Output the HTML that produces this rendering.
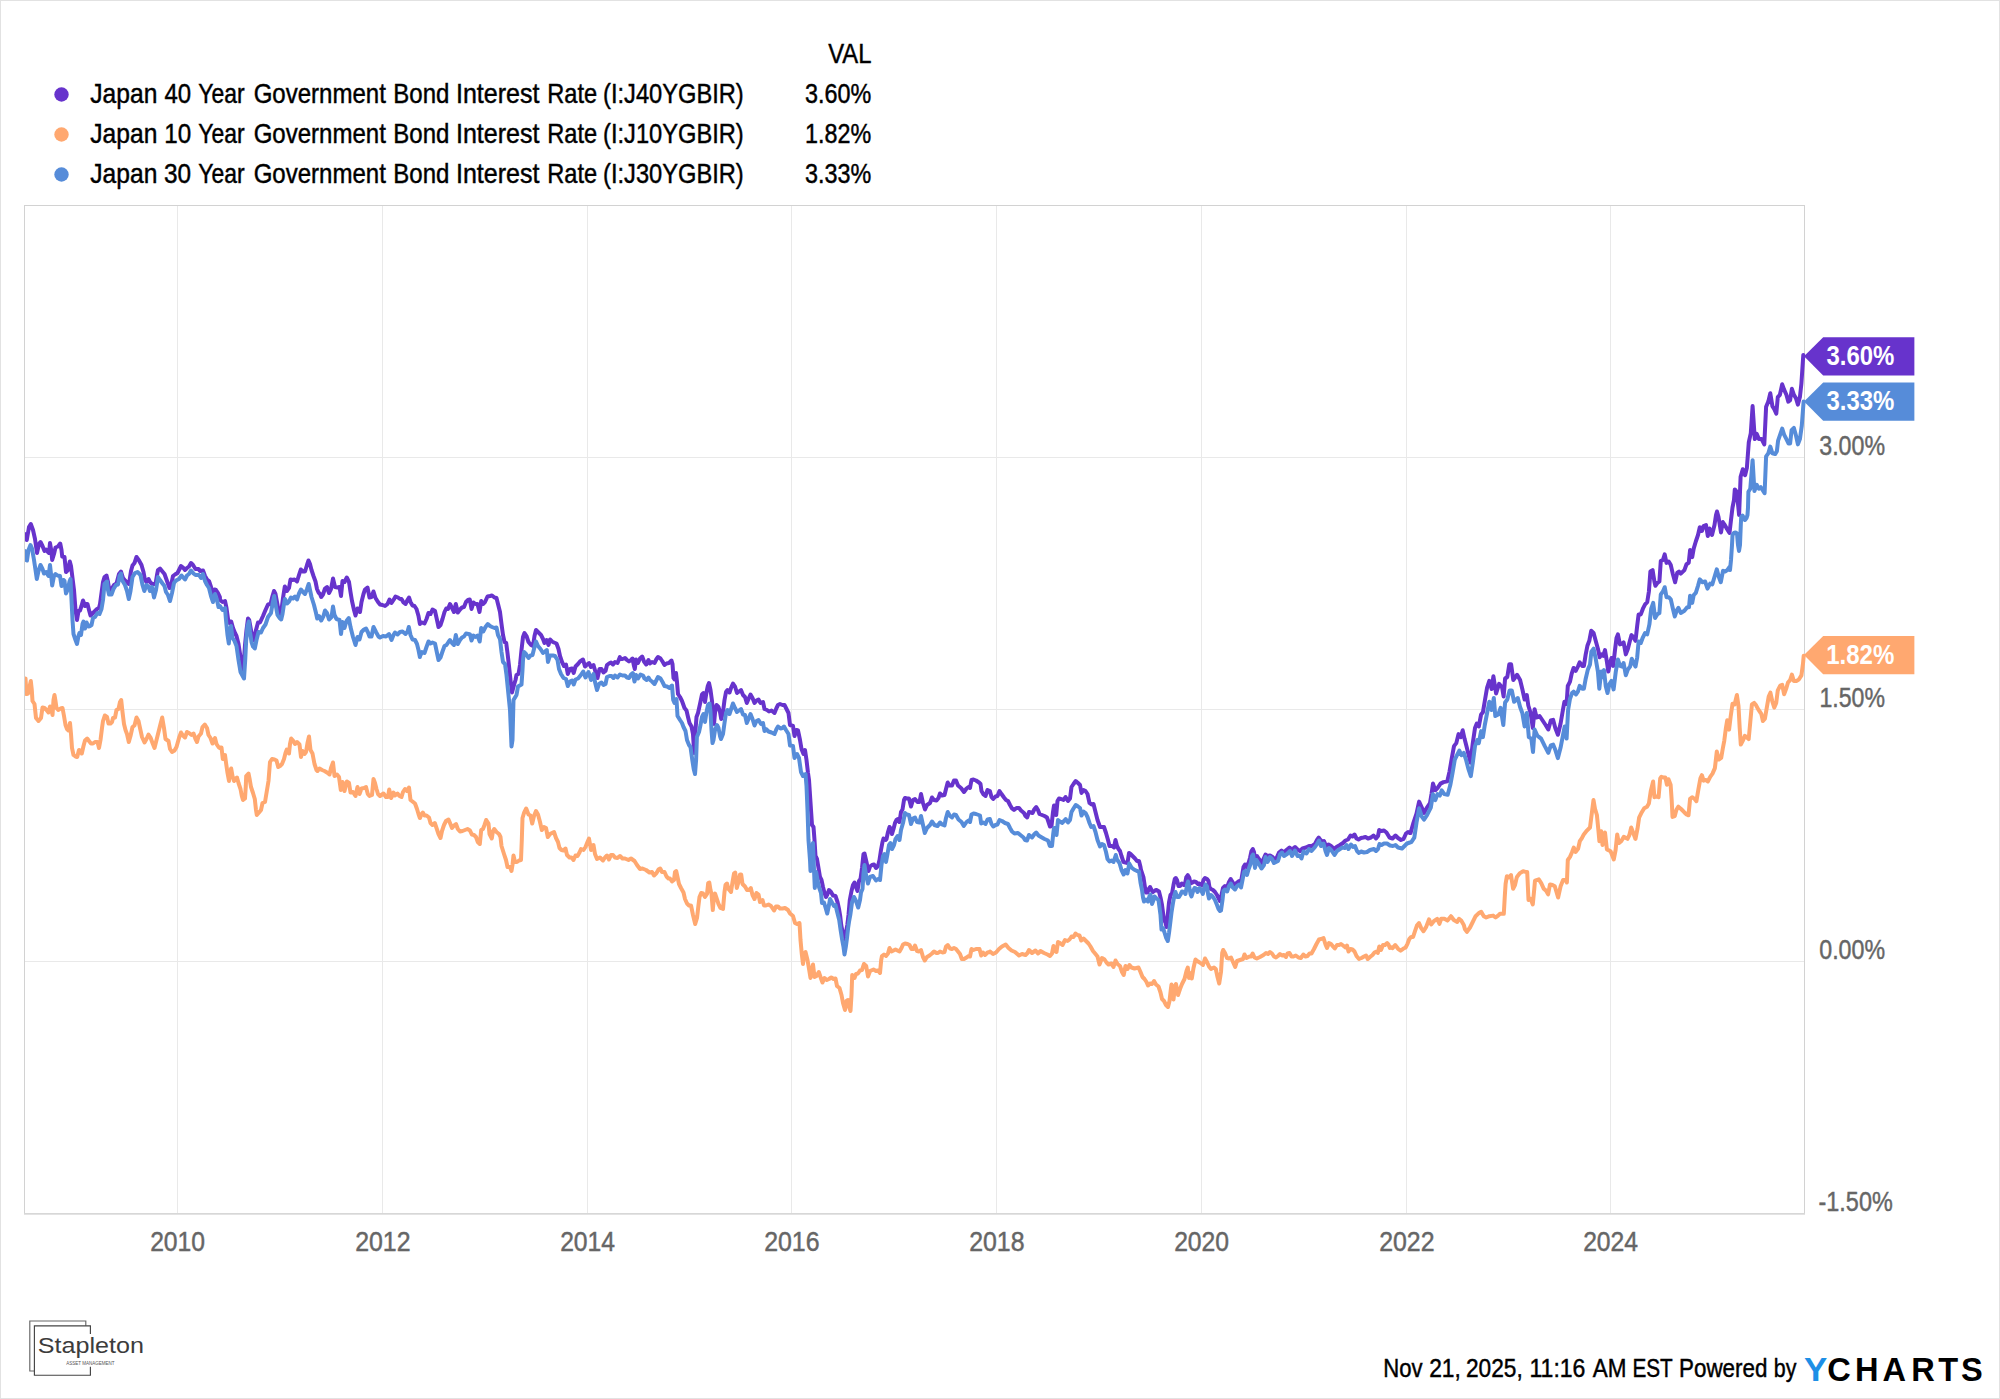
<!DOCTYPE html><html><head><meta charset="utf-8"><title>Japan Government Bond Interest Rates</title>
<style>html,body{margin:0;padding:0;background:#fff}svg{display:block}text{font-family:"Liberation Sans",sans-serif}</style></head><body>
<svg width="2000" height="1399" viewBox="0 0 2000 1399">
<rect x="0" y="0" width="2000" height="1399" fill="#fff"/>
<rect x="0.5" y="0.5" width="1999" height="1398" fill="none" stroke="#e2e2e2" stroke-width="1"/>
<path d="M177.5 206V1213 M382.5 206V1213 M587.5 206V1213 M791.5 206V1213 M996.5 206V1213 M1201.5 206V1213 M1406.5 206V1213 M1610.5 206V1213 M25 457.5H1804 M25 709.5H1804 M25 961.5H1804" stroke="#e9e9e9" stroke-width="1" fill="none" shape-rendering="crispEdges"/>
<path d="M24.5 1214V205.5H1804.5V1214" stroke="#d2d2d2" stroke-width="1" fill="none" shape-rendering="crispEdges"/>
<rect x="24" y="1213" width="1781" height="1.7" fill="#d7d7d7"/>
<defs><clipPath id="pc"><rect x="25" y="206" width="1781" height="1008"/></clipPath></defs>
<path d="M24.2 535.0 L25.0 534.0 L26.8 540.0 L29.0 527.0 L30.8 524.0 L33.0 530.0 L35.0 539.0 L37.0 553.0 L39.0 544.0 L40.5 542.0 L42.5 546.0 L44.5 551.0 L46.2 549.5 L48.0 552.0 L49.0 553.0 L50.0 543.0 L51.2 550.0 L52.2 560.0 L54.0 554.0 L55.5 547.5 L58.0 546.5 L60.2 543.5 L61.5 550.0 L62.2 556.5 L64.5 557.0 L66.0 572.0 L68.0 570.0 L69.8 561.5 L71.0 566.0 L72.5 578.0 L74.0 590.0 L75.5 610.0 L77.0 620.0 L78.5 611.0 L80.0 610.5 L81.5 606.0 L83.0 600.5 L85.0 606.0 L86.0 604.0 L87.5 604.0 L89.0 610.0 L90.5 615.5 L92.0 614.0 L94.5 611.5 L97.0 609.0 L99.0 608.0 L100.0 604.0 L101.5 593.0 L103.0 582.0 L104.5 577.0 L106.5 575.5 L108.0 582.0 L109.0 588.0 L111.0 590.0 L114.0 585.0 L116.5 583.5 L119.0 574.0 L121.0 571.5 L123.0 578.0 L125.0 580.5 L127.5 583.0 L129.0 584.0 L131.0 571.0 L132.5 565.5 L134.5 563.0 L136.5 557.0 L139.0 560.5 L141.5 565.0 L143.5 572.0 L145.0 580.0 L146.5 582.0 L148.5 579.0 L150.0 582.0 L152.0 584.0 L154.0 584.0 L155.5 584.0 L157.0 575.0 L158.0 570.0 L160.0 568.5 L162.0 571.0 L164.5 574.0 L167.0 581.0 L169.5 588.0 L171.0 586.0 L173.0 576.0 L175.0 574.5 L177.5 573.0 L179.5 569.0 L181.0 566.0 L183.0 567.5 L185.0 570.0 L187.0 568.0 L189.0 566.5 L191.0 563.0 L193.0 565.0 L195.5 569.0 L198.5 569.0 L200.0 571.0 L203.0 570.5 L205.0 576.0 L207.0 579.5 L209.0 581.0 L211.0 587.0 L212.5 593.0 L214.5 589.5 L216.0 590.0 L218.0 593.0 L219.9 597.0 L220.0 600.0 L222.5 602.0 L225.0 601.0 L226.5 608.0 L228.0 619.0 L229.5 623.0 L231.2 621.5 L233.0 628.0 L235.0 633.0 L236.5 636.0 L238.5 644.0 L240.5 657.0 L242.5 671.0 L244.0 660.0 L245.0 645.0 L246.5 630.0 L248.0 618.5 L249.2 620.0 L251.0 630.0 L252.5 638.0 L254.0 640.0 L256.0 630.0 L258.0 622.5 L260.0 622.5 L263.0 616.0 L265.5 610.0 L268.0 604.5 L270.5 604.0 L272.5 596.0 L274.0 591.0 L275.5 594.0 L277.0 602.0 L278.5 610.0 L280.0 614.0 L281.5 610.0 L283.0 598.0 L284.8 586.5 L287.0 591.0 L289.0 588.0 L290.5 579.5 L292.5 580.0 L294.5 579.5 L297.0 581.5 L299.0 575.0 L300.8 569.5 L303.0 571.5 L305.0 571.5 L307.0 565.0 L308.5 560.5 L310.0 564.0 L311.5 570.0 L313.5 576.0 L315.5 581.5 L317.0 589.0 L318.5 592.5 L320.0 594.0 L321.2 597.0 L323.0 594.5 L325.0 588.5 L327.0 587.0 L329.0 593.0 L331.0 589.0 L333.0 578.5 L335.0 587.0 L337.5 587.5 L339.5 587.0 L341.0 596.0 L342.5 581.0 L344.5 582.0 L346.8 577.5 L349.0 582.0 L350.5 592.0 L352.0 601.0 L354.0 610.0 L355.5 615.5 L357.5 608.5 L360.0 612.0 L361.5 602.0 L363.5 594.0 L365.0 589.5 L367.5 587.5 L369.5 597.5 L371.5 597.0 L373.5 591.5 L375.5 598.0 L378.0 602.0 L380.0 604.5 L382.5 605.0 L385.0 606.0 L387.5 604.0 L389.5 599.5 L391.5 603.0 L393.5 600.0 L395.5 596.5 L398.0 597.5 L400.0 599.0 L401.5 599.0 L403.5 602.5 L405.5 604.0 L407.5 600.0 L409.0 597.5 L410.5 602.0 L412.5 605.5 L414.5 606.0 L416.5 609.0 L418.5 616.0 L419.9 624.0 L420.0 623.0 L422.0 622.5 L424.5 623.5 L426.5 619.0 L428.5 613.0 L430.5 614.0 L432.5 609.5 L435.0 611.0 L437.0 620.0 L438.5 627.0 L440.5 625.0 L442.5 619.0 L444.5 612.0 L446.2 608.5 L448.0 609.0 L450.0 604.0 L452.0 608.0 L454.0 612.0 L455.8 604.0 L457.8 612.5 L460.0 609.5 L462.0 607.5 L464.0 607.0 L466.0 602.0 L468.0 600.0 L469.8 599.5 L471.5 609.0 L473.5 602.5 L475.5 604.0 L477.5 604.0 L479.5 612.0 L481.2 601.0 L483.0 604.0 L485.0 602.0 L487.5 596.5 L490.0 596.0 L492.0 595.5 L494.5 597.5 L496.5 598.0 L498.0 604.0 L500.0 612.0 L501.5 624.0 L503.0 635.0 L504.5 642.0 L506.2 643.0 L507.5 653.0 L509.0 666.0 L510.5 680.0 L512.0 692.5 L514.0 685.0 L515.5 680.0 L516.5 675.0 L518.5 674.0 L520.0 665.0 L521.5 650.0 L523.0 637.0 L524.5 633.0 L526.5 636.0 L528.5 642.0 L531.0 645.0 L533.0 646.0 L534.5 636.0 L536.0 630.0 L538.5 632.5 L541.0 635.0 L543.0 639.0 L544.5 643.0 L546.5 640.0 L548.5 645.0 L550.0 639.5 L552.0 641.5 L554.0 642.5 L556.5 643.5 L558.5 649.0 L560.0 656.0 L562.0 662.0 L564.0 666.0 L566.0 664.5 L567.8 674.0 L570.0 669.0 L572.0 668.5 L573.7 673.0 L575.5 666.5 L578.0 664.0 L580.0 661.5 L583.0 659.5 L585.0 666.5 L587.0 664.5 L589.0 663.0 L591.0 667.0 L593.5 665.0 L595.5 672.0 L597.5 678.0 L599.5 669.0 L601.5 669.0 L603.5 672.5 L605.5 671.0 L607.0 665.0 L609.0 663.5 L611.0 662.5 L613.0 664.5 L615.0 662.0 L617.5 663.0 L619.9 657.0 L620.0 659.0 L622.5 659.0 L625.0 658.0 L627.0 660.0 L629.0 661.5 L631.0 660.0 L632.5 658.5 L634.0 666.0 L634.8 669.0 L636.0 659.5 L638.0 663.0 L640.0 658.5 L642.2 656.5 L644.0 661.5 L646.2 664.5 L648.5 660.0 L650.0 663.5 L652.0 662.0 L654.5 663.0 L656.5 659.0 L658.0 657.0 L660.5 658.5 L662.5 661.5 L664.5 665.0 L666.5 663.5 L669.0 663.0 L671.5 660.5 L672.5 664.0 L673.5 678.0 L674.5 679.5 L676.0 673.0 L677.0 682.0 L678.0 694.0 L680.0 697.0 L682.0 701.0 L684.5 708.0 L686.5 710.5 L688.0 717.0 L689.5 723.0 L691.5 726.5 L693.0 734.0 L694.2 753.0 L695.5 730.0 L696.5 717.0 L698.0 713.0 L700.0 704.0 L702.0 694.5 L703.5 693.0 L705.0 702.0 L706.2 694.0 L707.8 686.0 L709.0 683.0 L710.5 690.0 L712.0 701.0 L713.0 714.0 L714.0 724.0 L715.0 713.0 L716.5 705.0 L718.5 707.0 L720.0 712.0 L721.2 719.0 L723.0 712.0 L724.5 700.0 L726.0 692.0 L727.5 690.0 L729.5 692.5 L731.0 688.0 L733.0 683.5 L735.0 686.5 L737.0 693.0 L739.0 691.5 L741.0 690.0 L743.0 695.0 L745.0 697.0 L746.8 703.0 L748.5 699.0 L750.5 694.5 L752.5 698.0 L754.5 703.0 L756.5 700.5 L758.5 699.5 L760.5 703.0 L763.0 702.0 L764.5 709.0 L767.0 710.0 L769.0 711.5 L771.5 710.5 L774.5 713.0 L776.5 708.0 L778.0 705.0 L780.0 704.0 L782.5 705.0 L784.5 705.0 L786.5 709.0 L788.5 713.0 L790.0 725.0 L793.0 726.0 L794.5 736.0 L796.5 730.0 L798.0 730.5 L800.0 740.0 L801.5 749.0 L803.5 754.0 L805.0 750.0 L806.5 760.0 L808.0 773.0 L809.0 780.0 L810.0 795.0 L811.0 810.0 L812.0 825.0 L813.5 827.0 L814.5 840.0 L815.5 856.0 L817.0 859.0 L818.5 868.0 L820.0 877.0 L821.5 880.0 L823.0 887.0 L824.5 893.0 L826.0 897.0 L827.5 894.0 L829.0 890.0 L831.0 892.0 L833.0 895.5 L835.5 896.0 L837.5 902.0 L839.2 910.0 L840.2 916.0 L841.2 925.0 L842.8 933.0 L844.2 939.5 L845.8 933.0 L847.3 925.0 L848.5 915.0 L849.8 900.0 L851.5 891.0 L853.0 885.0 L854.5 882.5 L856.0 887.0 L857.5 891.0 L859.0 881.0 L860.5 879.0 L862.0 868.0 L863.5 854.0 L864.5 853.5 L866.0 860.0 L868.5 871.0 L870.0 866.5 L872.0 865.0 L874.0 864.5 L876.0 868.0 L878.0 866.0 L879.5 860.0 L881.0 850.0 L882.5 842.0 L883.5 838.5 L885.5 840.0 L886.5 839.0 L888.0 832.0 L889.5 827.0 L891.0 829.0 L892.0 834.0 L893.5 829.0 L895.0 823.0 L896.5 820.0 L898.0 819.0 L899.5 822.0 L901.0 812.0 L902.5 809.5 L904.0 800.0 L905.0 798.0 L907.0 798.5 L909.0 798.5 L911.0 806.5 L913.0 800.0 L915.0 799.0 L917.5 802.0 L919.5 802.0 L921.0 794.0 L923.0 803.0 L925.0 809.5 L927.0 805.0 L930.0 803.0 L932.0 797.5 L934.0 800.0 L936.5 800.5 L938.5 798.0 L940.0 793.5 L942.0 795.5 L944.5 795.0 L946.0 789.0 L947.7 782.5 L949.5 785.5 L952.0 785.5 L954.0 780.5 L956.0 780.5 L958.0 785.5 L961.0 788.0 L964.0 792.0 L966.5 788.5 L968.5 787.0 L970.0 788.0 L971.5 780.0 L973.5 779.5 L976.0 780.5 L979.0 782.5 L980.5 784.0 L981.5 791.0 L983.5 794.5 L985.5 796.0 L987.5 790.0 L989.9 791.0 L991.5 797.0 L993.2 799.0 L995.5 796.5 L997.5 796.0 L999.5 791.0 L1001.5 794.0 L1004.0 797.5 L1006.0 800.0 L1008.0 801.0 L1010.0 805.0 L1012.0 808.5 L1014.0 810.0 L1016.5 808.0 L1019.0 808.0 L1021.0 810.5 L1024.0 813.0 L1025.5 816.0 L1027.2 817.5 L1029.0 812.0 L1031.0 812.5 L1032.5 813.0 L1034.5 809.0 L1036.2 807.0 L1038.0 810.0 L1039.5 814.0 L1042.0 815.0 L1044.5 816.0 L1047.0 817.5 L1048.5 822.0 L1050.0 826.5 L1051.5 826.0 L1053.0 812.0 L1054.0 805.5 L1055.5 806.0 L1056.2 815.0 L1057.5 801.0 L1059.0 798.5 L1061.0 799.0 L1063.5 800.0 L1065.5 797.0 L1068.0 801.0 L1070.0 798.5 L1071.5 787.0 L1073.5 784.0 L1075.7 781.0 L1078.0 783.0 L1080.0 785.0 L1081.5 793.0 L1083.5 790.0 L1085.5 791.0 L1087.5 794.0 L1089.5 803.0 L1091.5 804.5 L1093.5 804.0 L1095.5 812.0 L1097.5 820.0 L1100.0 827.0 L1102.0 827.0 L1104.0 827.0 L1106.0 833.0 L1108.0 840.0 L1109.5 846.0 L1112.0 846.0 L1114.0 847.5 L1115.5 840.0 L1117.0 846.0 L1118.5 849.0 L1120.0 851.0 L1121.5 856.0 L1123.5 862.0 L1125.5 862.5 L1127.5 863.0 L1129.0 853.0 L1130.5 854.0 L1132.5 856.0 L1135.0 858.5 L1137.0 861.0 L1139.0 861.0 L1140.5 867.0 L1141.0 870.0 L1143.5 877.5 L1145.0 887.5 L1146.0 892.5 L1147.5 892.5 L1149.0 888.5 L1150.0 887.0 L1151.5 890.0 L1153.0 892.0 L1155.0 890.5 L1156.5 890.0 L1159.0 891.5 L1160.5 897.5 L1162.0 905.0 L1163.0 912.5 L1164.0 920.0 L1165.5 922.5 L1166.5 927.0 L1167.8 915.0 L1169.0 902.5 L1170.5 895.0 L1172.0 893.5 L1173.5 885.0 L1174.8 879.0 L1175.8 878.0 L1177.0 880.0 L1178.5 886.0 L1180.0 886.0 L1181.8 883.5 L1184.0 885.0 L1185.0 884.0 L1186.2 877.5 L1187.8 875.2 L1189.2 877.5 L1190.5 883.5 L1192.5 882.5 L1194.0 881.5 L1196.0 882.0 L1198.0 884.0 L1199.5 883.5 L1202.0 885.5 L1203.5 880.0 L1205.0 878.0 L1207.0 879.0 L1208.5 881.0 L1209.5 887.5 L1211.0 889.0 L1213.0 890.0 L1215.0 892.0 L1217.0 895.0 L1219.0 899.0 L1220.0 901.0 L1221.5 895.0 L1223.0 888.0 L1225.0 886.0 L1227.0 887.5 L1229.0 882.0 L1230.7 879.0 L1232.5 882.0 L1234.5 886.0 L1236.5 883.0 L1239.0 881.0 L1240.5 884.0 L1242.0 876.0 L1243.5 867.0 L1245.0 864.5 L1246.5 867.0 L1248.5 863.0 L1250.0 858.0 L1251.5 851.0 L1252.8 849.0 L1254.0 852.0 L1255.0 858.0 L1257.0 856.0 L1259.0 859.0 L1261.5 864.0 L1263.5 859.0 L1265.5 854.5 L1267.5 856.0 L1270.0 855.5 L1272.5 857.0 L1275.0 860.0 L1277.0 857.0 L1279.0 852.5 L1281.5 850.5 L1284.0 852.5 L1286.5 850.0 L1289.5 847.5 L1292.0 849.5 L1295.0 847.0 L1297.5 849.5 L1300.0 851.0 L1302.5 848.5 L1306.0 847.5 L1309.0 846.0 L1312.0 846.0 L1315.0 844.0 L1317.0 840.0 L1318.8 837.5 L1320.5 840.0 L1322.5 842.0 L1324.0 841.0 L1326.0 846.0 L1328.5 844.5 L1331.0 846.0 L1334.0 849.0 L1336.5 847.0 L1340.0 845.0 L1343.0 843.0 L1345.5 840.5 L1348.0 839.5 L1350.5 835.5 L1352.5 836.5 L1354.5 834.5 L1356.5 838.5 L1358.5 839.5 L1361.0 838.0 L1363.5 837.5 L1365.5 837.0 L1368.0 838.5 L1371.0 837.5 L1373.5 835.5 L1376.0 838.5 L1378.0 836.0 L1379.2 830.0 L1381.5 831.0 L1384.0 830.5 L1386.5 832.5 L1389.5 837.5 L1392.5 838.5 L1395.5 835.5 L1398.0 838.0 L1401.0 840.0 L1403.5 839.0 L1406.0 833.5 L1408.0 832.0 L1409.9 833.0 L1410.5 833.1 L1413.5 822.6 L1416.5 813.6 L1419.1 801.6 L1421.8 807.6 L1424.0 812.9 L1427.0 807.6 L1430.0 803.1 L1431.5 794.1 L1433.0 783.6 L1435.3 790.3 L1437.5 788.1 L1440.5 783.6 L1443.5 782.1 L1447.3 781.3 L1449.5 771.6 L1451.8 758.1 L1454.0 746.1 L1456.3 743.1 L1458.5 734.1 L1460.8 737.1 L1462.7 730.3 L1464.5 738.6 L1466.8 747.6 L1469.0 756.6 L1470.5 762.6 L1472.8 743.1 L1475.0 728.0 L1476.8 723.5 L1478.8 726.5 L1481.1 714.5 L1482.9 712.3 L1484.8 701.0 L1487.1 687.5 L1489.3 680.8 L1491.6 689.0 L1493.4 676.3 L1496.1 693.5 L1499.1 683.8 L1502.1 687.5 L1503.6 696.5 L1505.1 678.5 L1507.3 677.0 L1509.3 664.3 L1511.1 664.3 L1513.3 680.0 L1517.1 674.8 L1520.1 680.0 L1522.3 689.0 L1524.6 699.5 L1526.8 695.0 L1528.3 705.5 L1530.6 713.0 L1532.8 728.0 L1534.6 709.3 L1536.6 717.5 L1539.6 716.0 L1542.6 720.5 L1545.6 725.0 L1548.3 729.5 L1550.8 720.5 L1553.1 719.8 L1555.3 728.0 L1557.9 734.8 L1560.6 723.5 L1562.9 710.0 L1564.4 701.8 L1566.6 704.0 L1567.8 686.0 L1570.0 681.6 L1571.7 673.7 L1573.6 668.0 L1575.7 670.9 L1577.9 666.6 L1579.7 662.3 L1582.2 665.9 L1583.9 665.9 L1585.7 654.4 L1587.4 645.8 L1589.3 640.8 L1591.2 630.8 L1593.6 633.0 L1595.7 640.8 L1597.9 648.7 L1599.7 657.3 L1601.5 654.4 L1603.2 655.8 L1605.0 650.1 L1606.9 661.6 L1608.3 671.6 L1610.0 663.0 L1611.5 658.0 L1613.2 665.9 L1615.0 650.1 L1616.5 638.0 L1617.9 634.4 L1620.0 644.4 L1622.2 643.7 L1623.6 642.3 L1625.8 654.4 L1627.9 648.7 L1630.1 640.1 L1631.5 635.1 L1633.6 637.3 L1635.5 640.8 L1637.2 625.8 L1638.6 614.4 L1640.8 614.4 L1642.9 608.7 L1645.1 604.4 L1647.2 602.2 L1648.9 591.5 L1650.4 571.5 L1652.6 570.1 L1654.4 581.5 L1655.4 585.8 L1657.5 582.9 L1659.4 581.5 L1660.8 560.8 L1662.9 560.1 L1664.7 554.3 L1666.5 562.9 L1668.7 561.5 L1670.8 565.1 L1672.9 574.3 L1675.1 582.2 L1677.2 572.9 L1679.0 571.5 L1680.8 573.6 L1684.4 570.1 L1686.5 564.3 L1688.7 562.9 L1690.1 550.0 L1692.2 557.2 L1693.7 548.6 L1695.8 541.5 L1698.0 535.0 L1699.8 527.2 L1700.0 531.0 L1702.0 531.0 L1703.5 526.0 L1706.0 525.0 L1707.8 536.0 L1709.5 528.5 L1712.0 535.0 L1714.5 525.0 L1716.0 515.0 L1717.0 511.5 L1718.5 517.0 L1721.0 532.5 L1722.8 522.0 L1724.5 524.5 L1727.0 529.0 L1729.5 533.0 L1731.0 520.0 L1732.5 507.5 L1734.0 500.0 L1734.8 489.4 L1736.8 491.7 L1739.1 515.0 L1740.6 476.7 L1742.8 469.2 L1745.1 475.2 L1746.9 467.7 L1748.8 442.1 L1750.8 433.1 L1752.6 406.1 L1754.8 439.1 L1756.8 433.9 L1758.9 439.1 L1761.6 439.1 L1764.3 444.4 L1766.1 406.8 L1768.3 401.6 L1770.3 393.3 L1772.4 406.1 L1774.3 409.1 L1776.3 413.6 L1777.8 397.1 L1779.9 394.8 L1782.2 384.3 L1784.1 389.6 L1786.4 394.8 L1788.3 401.6 L1790.1 400.1 L1791.9 388.8 L1793.9 394.8 L1796.1 398.6 L1797.9 404.6 L1799.9 397.1 L1801.4 383.6 L1803.3 355.0" stroke="#6733cc" stroke-width="4.0" fill="none" stroke-linejoin="round" stroke-linecap="round" clip-path="url(#pc)"/>
<path d="M24.2 680.0 L25.5 678.5 L26.5 694.0 L28.0 693.5 L29.5 687.0 L30.8 681.0 L31.8 690.0 L32.5 701.0 L34.5 704.0 L36.0 718.0 L38.5 721.0 L41.0 718.0 L42.5 707.5 L44.5 708.0 L46.5 710.0 L48.5 712.5 L50.0 706.5 L51.2 707.5 L52.5 715.0 L53.5 700.0 L54.5 695.0 L55.5 701.0 L56.5 708.0 L58.5 710.0 L60.5 708.5 L62.5 708.0 L64.0 716.0 L65.5 725.0 L67.0 729.0 L68.5 730.5 L70.0 723.0 L71.0 734.0 L72.0 748.0 L73.5 755.0 L75.5 756.5 L77.2 757.0 L79.0 750.0 L80.5 751.0 L81.8 753.5 L83.5 746.0 L85.0 740.5 L87.2 738.5 L89.0 741.0 L91.0 743.5 L93.0 743.5 L95.0 742.0 L97.5 742.0 L99.0 748.0 L100.5 740.0 L102.0 728.0 L103.0 721.0 L104.8 715.5 L107.0 717.0 L108.5 723.5 L110.5 723.5 L112.0 722.0 L113.0 718.0 L115.0 717.5 L116.5 710.0 L118.5 709.0 L120.0 702.0 L121.2 700.0 L122.5 712.0 L124.0 724.0 L125.5 730.0 L127.0 734.0 L128.8 742.0 L130.5 736.0 L132.5 727.0 L134.5 725.5 L136.5 717.5 L138.5 721.0 L140.0 728.0 L142.0 737.0 L144.5 742.5 L146.5 739.0 L148.5 734.5 L150.5 737.5 L152.5 743.0 L154.5 748.0 L156.5 740.0 L158.5 732.0 L160.5 724.0 L162.2 717.5 L164.0 728.0 L165.5 739.0 L167.0 740.0 L168.5 741.0 L170.0 749.0 L172.0 752.0 L174.5 750.5 L176.5 747.0 L179.0 738.0 L181.0 732.5 L183.0 735.5 L185.0 737.5 L187.0 732.0 L189.0 733.0 L191.5 735.0 L193.5 733.5 L195.5 739.0 L197.0 742.0 L198.5 736.5 L201.0 733.5 L202.5 727.0 L204.8 724.5 L207.0 728.0 L208.5 735.0 L210.5 738.0 L212.5 743.5 L215.0 738.0 L216.5 744.0 L218.5 747.0 L219.9 748.0 L220.0 747.5 L221.5 747.5 L222.8 759.0 L225.0 755.0 L226.2 764.0 L227.5 773.0 L229.0 781.0 L230.0 772.0 L231.2 768.5 L232.5 776.0 L234.0 781.0 L235.5 779.0 L237.0 777.5 L238.5 783.0 L240.5 789.0 L241.8 796.0 L243.0 800.0 L245.0 798.5 L245.8 786.0 L246.2 776.0 L248.5 773.5 L249.8 780.0 L251.0 787.0 L253.0 793.0 L254.8 799.0 L256.0 810.0 L256.8 815.0 L259.0 812.5 L261.0 810.0 L262.5 803.0 L265.0 802.0 L266.5 793.0 L268.5 781.0 L270.0 762.0 L272.0 759.0 L274.5 759.5 L276.5 760.5 L278.2 767.0 L280.0 766.0 L282.0 764.0 L284.0 759.0 L285.5 753.0 L286.8 749.5 L289.0 753.5 L290.0 744.0 L291.2 738.5 L293.0 740.5 L295.0 744.0 L297.0 742.0 L299.5 744.5 L301.0 757.0 L302.5 751.0 L304.5 754.0 L306.0 752.0 L307.5 743.0 L309.0 736.5 L310.5 750.0 L312.5 753.5 L314.5 764.0 L316.5 770.0 L317.5 771.0 L319.5 768.5 L322.0 770.0 L324.5 771.0 L327.0 772.5 L329.5 774.5 L331.0 768.0 L333.0 762.5 L334.5 776.0 L337.0 774.5 L339.0 777.0 L340.8 790.0 L342.5 782.0 L344.5 791.0 L346.8 781.5 L349.0 783.0 L350.5 792.5 L353.0 792.0 L355.5 796.0 L357.5 787.0 L359.5 794.0 L361.5 788.5 L364.0 788.0 L366.0 787.0 L367.8 794.0 L369.5 796.0 L372.0 795.0 L373.5 779.0 L375.0 783.0 L376.5 789.0 L378.0 794.0 L380.0 796.0 L383.5 793.5 L386.0 797.0 L388.0 797.0 L389.2 789.5 L391.2 798.0 L393.5 792.5 L395.0 795.5 L397.5 793.5 L399.5 796.0 L401.5 797.0 L403.0 792.0 L405.0 789.0 L407.0 791.0 L409.0 787.5 L410.5 800.0 L412.5 801.5 L415.0 803.5 L417.0 809.0 L418.5 814.0 L419.9 818.0 L420.0 818.0 L421.5 814.0 L422.8 812.5 L424.5 815.5 L426.5 815.5 L429.0 817.5 L430.5 823.0 L432.5 825.0 L434.8 823.0 L436.5 828.0 L438.5 834.0 L440.5 838.0 L442.0 831.0 L444.0 825.0 L446.0 821.0 L448.5 819.5 L450.0 823.0 L452.0 828.0 L454.0 825.5 L456.0 824.0 L457.8 829.0 L460.0 831.5 L462.5 831.0 L465.0 830.0 L467.5 829.0 L470.0 830.5 L471.8 834.5 L474.0 835.0 L476.0 837.0 L477.8 842.0 L479.8 844.0 L481.2 830.0 L483.0 829.0 L484.5 825.0 L486.2 820.0 L488.5 823.5 L489.5 834.0 L491.8 838.5 L493.0 831.0 L494.2 829.0 L496.5 832.0 L499.0 834.0 L500.5 837.0 L501.5 846.0 L504.0 854.0 L506.0 860.0 L507.5 867.0 L510.0 867.0 L511.5 871.0 L512.5 865.0 L513.5 855.5 L515.0 862.0 L517.0 862.0 L519.0 860.5 L521.0 860.0 L521.8 840.0 L522.5 818.0 L524.0 813.0 L526.2 808.5 L528.5 814.5 L530.5 815.5 L532.2 823.5 L534.0 816.0 L536.0 811.0 L538.0 814.5 L540.0 822.0 L541.8 830.0 L544.0 827.0 L546.0 828.0 L547.8 837.0 L550.0 834.0 L552.0 833.0 L554.0 832.0 L556.0 838.0 L558.0 842.0 L559.5 848.0 L561.5 850.0 L563.5 850.5 L565.5 848.5 L567.0 855.0 L569.5 857.5 L571.5 857.5 L573.5 860.0 L575.5 855.5 L577.5 856.0 L579.5 852.5 L581.0 849.0 L583.5 850.0 L585.5 847.0 L587.5 842.0 L589.0 838.5 L591.0 850.0 L593.5 845.0 L595.0 854.0 L597.0 859.0 L600.0 857.5 L603.0 860.5 L605.0 857.5 L607.0 855.5 L609.0 859.5 L611.0 855.0 L613.0 855.0 L615.0 857.5 L617.5 858.0 L619.9 856.0 L620.0 856.0 L622.5 858.5 L625.0 858.5 L628.5 860.0 L631.0 858.5 L634.5 861.0 L637.0 865.0 L640.0 869.0 L642.5 868.5 L646.0 870.0 L649.5 872.5 L652.0 872.0 L654.0 875.5 L656.5 873.0 L658.5 869.5 L660.2 868.5 L662.0 872.0 L664.5 872.0 L666.5 876.5 L668.5 878.5 L670.0 878.5 L672.0 881.5 L674.0 880.0 L675.0 872.0 L676.2 871.0 L677.5 877.0 L679.0 884.0 L681.0 888.0 L683.5 892.5 L685.0 899.0 L687.0 903.5 L689.0 905.5 L691.0 905.5 L693.0 915.0 L695.2 924.0 L697.0 918.0 L698.5 905.0 L699.5 897.0 L701.2 893.0 L703.0 893.5 L705.0 897.0 L707.0 894.0 L708.2 883.0 L709.3 882.5 L710.5 890.0 L711.5 894.0 L712.8 910.0 L714.0 896.0 L715.0 893.5 L716.5 898.0 L718.5 904.0 L720.5 908.0 L723.0 909.0 L724.5 892.0 L725.5 885.0 L727.0 883.5 L728.5 889.0 L731.0 892.0 L732.5 882.0 L734.0 873.5 L735.2 872.5 L736.8 888.0 L738.5 882.0 L740.0 874.5 L741.2 874.5 L742.5 884.0 L745.0 886.5 L747.0 890.0 L749.0 890.0 L750.8 888.0 L752.5 895.0 L754.5 899.0 L756.5 893.0 L758.5 894.5 L760.0 902.0 L762.5 900.0 L764.0 905.5 L766.0 905.5 L768.5 904.5 L771.0 906.0 L774.0 910.5 L776.0 906.5 L778.0 906.5 L780.0 908.5 L782.5 908.5 L785.0 908.0 L788.0 910.0 L790.0 913.5 L793.0 916.0 L795.0 923.0 L797.0 924.0 L799.2 923.0 L799.5 923.0 L800.5 940.0 L801.8 954.0 L803.0 964.0 L804.2 954.0 L805.5 952.0 L807.5 960.0 L809.2 970.0 L810.5 978.0 L811.8 970.0 L813.0 964.5 L814.5 977.0 L816.5 976.0 L818.8 972.0 L820.5 977.0 L822.5 982.5 L824.5 978.0 L826.8 980.0 L829.0 979.0 L831.2 977.5 L833.5 979.0 L835.5 978.5 L837.0 986.0 L839.5 988.0 L841.5 995.0 L843.0 1003.0 L845.0 1010.0 L846.5 1001.0 L848.0 1000.0 L849.5 1008.0 L850.5 1011.0 L851.5 995.0 L852.2 975.0 L854.5 978.0 L856.0 974.0 L858.0 973.5 L860.0 970.5 L862.0 970.0 L864.0 964.0 L866.2 966.0 L868.0 976.5 L870.0 971.0 L873.5 969.5 L876.0 971.0 L878.0 970.5 L880.0 973.0 L881.2 960.0 L882.0 956.0 L884.0 954.5 L886.0 956.0 L888.0 953.5 L889.5 948.0 L891.5 951.5 L893.5 950.5 L895.5 949.5 L897.5 950.5 L899.5 951.5 L901.5 948.0 L903.0 944.5 L905.0 943.5 L907.5 944.0 L909.5 945.0 L911.5 949.0 L913.5 949.0 L915.0 945.5 L917.0 951.0 L919.0 951.5 L921.0 950.0 L923.0 957.0 L924.8 960.5 L927.0 957.0 L929.5 955.5 L932.0 953.5 L934.0 951.5 L936.5 953.0 L938.0 953.0 L940.0 951.5 L942.5 952.5 L944.5 952.0 L946.0 946.5 L947.8 945.0 L950.0 948.5 L952.0 949.0 L954.0 948.0 L956.0 949.0 L958.0 951.5 L960.0 954.0 L961.8 959.0 L964.0 959.0 L966.5 957.5 L968.5 956.0 L970.0 956.5 L971.5 949.0 L973.5 950.0 L976.0 949.0 L978.5 949.0 L979.5 949.0 L981.2 955.5 L983.0 952.5 L985.0 955.0 L987.5 952.5 L989.9 952.0 L990.0 951.5 L993.0 954.0 L996.0 952.5 L999.0 949.0 L1002.0 946.5 L1005.7 944.5 L1008.5 948.0 L1011.5 950.5 L1015.0 952.0 L1019.0 955.5 L1022.0 954.0 L1025.5 955.0 L1027.5 953.0 L1029.0 950.0 L1032.0 953.0 L1035.5 950.5 L1038.0 953.5 L1040.5 951.0 L1044.0 953.0 L1047.5 954.5 L1050.0 956.0 L1052.0 953.5 L1053.5 946.0 L1055.0 951.0 L1056.5 952.0 L1058.0 942.0 L1060.0 943.0 L1062.5 945.0 L1065.0 940.0 L1067.5 941.0 L1069.5 939.5 L1071.5 936.5 L1073.5 937.0 L1075.5 933.5 L1077.5 935.0 L1079.5 935.5 L1081.2 940.5 L1083.5 938.5 L1086.0 941.0 L1088.5 943.5 L1090.5 946.5 L1093.0 951.0 L1095.5 954.0 L1097.5 956.5 L1099.5 964.5 L1102.0 958.0 L1104.5 959.5 L1106.5 962.5 L1108.5 964.5 L1111.5 963.5 L1113.5 967.0 L1115.5 960.5 L1117.5 964.0 L1120.0 966.0 L1122.0 972.0 L1123.7 975.0 L1125.5 966.0 L1127.5 969.0 L1129.5 965.0 L1131.5 967.5 L1134.5 968.5 L1138.5 967.5 L1140.5 972.0 L1142.5 977.0 L1144.5 979.0 L1146.5 982.0 L1148.0 985.5 L1150.0 983.5 L1152.0 984.0 L1154.0 981.0 L1156.0 984.5 L1158.5 986.5 L1160.5 992.5 L1162.0 999.0 L1164.0 1001.0 L1166.0 1005.0 L1168.0 1007.0 L1169.5 1001.0 L1171.0 988.0 L1171.5 984.5 L1173.5 999.5 L1175.0 986.0 L1176.0 984.0 L1178.0 995.0 L1180.0 989.0 L1182.0 984.0 L1184.5 979.0 L1186.5 971.0 L1187.8 967.5 L1189.0 978.0 L1189.9 973.0 L1190.0 974.0 L1191.8 978.5 L1193.5 968.0 L1195.5 959.5 L1198.0 961.5 L1200.5 963.0 L1203.0 965.0 L1205.0 958.5 L1207.0 962.0 L1209.0 966.5 L1211.0 969.0 L1214.0 967.5 L1215.8 969.0 L1217.5 977.0 L1219.2 983.5 L1221.0 972.0 L1222.2 953.0 L1223.2 950.0 L1225.0 953.0 L1227.0 958.0 L1229.0 958.5 L1231.0 957.5 L1233.0 962.0 L1235.2 967.0 L1237.0 961.0 L1240.0 960.0 L1243.0 959.0 L1244.5 954.5 L1246.5 958.0 L1249.5 956.5 L1251.2 956.5 L1252.7 953.5 L1254.5 957.5 L1256.8 958.5 L1260.0 957.0 L1263.5 955.0 L1266.0 953.0 L1268.0 954.0 L1270.0 952.0 L1272.0 953.5 L1274.0 956.5 L1276.0 957.5 L1278.0 956.0 L1280.0 954.0 L1282.0 955.5 L1284.0 955.0 L1286.0 957.0 L1287.5 953.5 L1289.5 953.0 L1291.5 956.5 L1293.5 956.5 L1295.8 955.5 L1298.5 957.5 L1301.0 958.0 L1303.3 954.5 L1305.5 956.5 L1307.5 956.0 L1309.5 953.5 L1311.5 953.5 L1314.0 949.0 L1316.5 944.0 L1319.0 939.5 L1321.0 939.0 L1323.5 938.0 L1325.5 944.5 L1327.0 948.0 L1329.0 943.0 L1331.0 944.0 L1333.0 946.5 L1334.8 948.5 L1337.0 945.0 L1339.0 945.0 L1341.0 944.0 L1343.0 945.5 L1345.5 947.5 L1347.0 945.5 L1348.5 951.5 L1350.5 949.0 L1352.5 949.5 L1354.5 951.5 L1356.5 956.0 L1359.0 959.0 L1361.5 958.0 L1364.0 956.5 L1366.0 955.5 L1367.8 959.0 L1370.0 957.0 L1372.5 955.0 L1374.5 952.5 L1376.5 951.5 L1377.8 953.0 L1379.3 946.5 L1381.0 950.0 L1383.0 945.0 L1385.0 945.0 L1387.2 943.0 L1388.5 944.5 L1389.9 948.0 L1390.0 946.9 L1392.5 948.1 L1395.2 945.0 L1398.1 948.8 L1400.6 950.6 L1403.1 948.8 L1405.6 947.5 L1407.5 943.8 L1409.4 938.8 L1411.2 936.9 L1413.1 936.9 L1415.0 931.2 L1416.9 925.6 L1419.0 923.1 L1421.2 928.1 L1423.5 931.2 L1426.2 926.9 L1429.0 919.4 L1431.2 924.4 L1433.8 921.2 L1437.2 918.8 L1439.4 923.8 L1441.2 918.8 L1444.4 918.8 L1447.5 920.6 L1451.0 916.2 L1453.8 920.0 L1457.2 921.9 L1459.0 918.8 L1461.2 920.6 L1463.8 925.0 L1465.0 929.4 L1466.9 931.9 L1470.0 927.5 L1472.5 922.5 L1475.6 916.2 L1478.8 913.1 L1481.2 911.9 L1483.8 916.2 L1486.2 917.5 L1489.4 916.2 L1493.1 915.6 L1495.6 917.5 L1498.1 915.6 L1500.0 913.8 L1502.5 913.8 L1503.8 913.8 L1504.8 896.2 L1505.6 883.8 L1506.9 876.2 L1508.8 877.5 L1511.0 875.0 L1513.1 888.8 L1515.0 885.0 L1516.9 876.9 L1520.0 873.1 L1523.1 871.2 L1525.6 871.9 L1527.2 871.9 L1528.5 900.0 L1530.6 898.8 L1532.8 904.4 L1534.4 887.5 L1535.0 880.6 L1538.8 879.4 L1541.2 883.1 L1543.8 888.8 L1546.0 890.6 L1548.1 894.4 L1550.0 884.4 L1552.5 885.0 L1554.8 886.2 L1558.1 897.5 L1560.6 886.2 L1563.1 880.0 L1565.6 880.0 L1566.9 882.5 L1567.8 860.0 L1570.0 856.9 L1571.9 852.5 L1573.8 847.5 L1575.6 851.9 L1578.1 848.8 L1579.8 841.2 L1581.9 838.1 L1583.8 834.4 L1586.9 830.6 L1590.0 827.5 L1591.9 812.5 L1593.5 800.0 L1595.0 808.8 L1596.9 815.0 L1598.5 831.2 L1599.4 841.2 L1601.2 831.2 L1602.5 845.0 L1604.4 833.8 L1605.0 832.5 L1606.9 849.4 L1610.6 851.2 L1613.8 859.4 L1615.6 850.0 L1617.2 834.4 L1618.8 843.1 L1621.2 841.2 L1623.8 836.9 L1627.5 838.8 L1629.4 835.0 L1631.2 827.5 L1633.1 832.5 L1635.4 838.8 L1635.5 838.9 L1637.5 828.7 L1639.1 817.7 L1641.8 812.2 L1644.2 808.2 L1647.0 806.7 L1648.9 803.5 L1650.8 790.9 L1653.1 781.5 L1654.4 797.2 L1656.7 796.4 L1658.6 797.2 L1660.2 778.4 L1661.4 776.8 L1663.8 777.6 L1665.4 777.6 L1666.9 784.7 L1668.5 779.2 L1670.6 784.7 L1671.7 800.4 L1672.5 816.9 L1674.8 816.1 L1676.4 809.8 L1678.4 806.7 L1681.1 809.0 L1684.2 812.2 L1686.6 814.5 L1688.5 815.3 L1690.1 798.8 L1692.1 797.2 L1694.5 798.8 L1696.4 801.2 L1698.4 789.4 L1700.4 778.4 L1701.9 775.2 L1703.6 780.7 L1705.8 779.9 L1707.8 781.5 L1710.2 776.8 L1712.5 773.6 L1714.9 768.1 L1716.8 751.6 L1718.8 759.5 L1721.2 757.9 L1722.8 748.5 L1724.3 740.6 L1725.9 728.1 L1727.2 720.2 L1729.1 729.6 L1730.6 717.0 L1732.5 703.7 L1734.6 704.5 L1736.9 695.0 L1738.5 706.0 L1739.7 728.1 L1740.8 744.6 L1742.9 740.6 L1744.8 735.9 L1747.1 737.5 L1748.7 739.1 L1750.3 721.8 L1751.9 704.5 L1754.2 702.9 L1756.1 705.3 L1758.1 709.2 L1759.7 711.5 L1761.3 713.9 L1762.9 721.0 L1764.9 718.6 L1766.8 707.6 L1768.7 696.6 L1770.4 692.7 L1772.3 701.3 L1774.3 707.6 L1776.2 702.9 L1777.8 690.3 L1780.2 685.6 L1782.2 684.8 L1784.1 694.2 L1786.4 688.0 L1788.0 682.5 L1790.1 680.1 L1791.9 674.6 L1793.8 680.9 L1796.7 680.9 L1799.0 679.3 L1801.4 675.4 L1803.0 663.6 L1803.7 655.7" stroke="#ffa870" stroke-width="4.0" fill="none" stroke-linejoin="round" stroke-linecap="round" clip-path="url(#pc)"/>
<path d="M24.2 552.0 L25.0 551.0 L26.0 560.0 L27.0 560.5 L28.5 550.0 L30.5 545.0 L32.0 548.5 L34.0 560.0 L35.5 570.0 L36.8 579.0 L38.5 571.0 L40.5 565.0 L42.5 569.0 L44.0 573.5 L46.2 572.0 L48.5 576.0 L50.0 565.0 L51.0 574.0 L52.2 585.5 L54.0 576.0 L55.5 574.0 L57.5 575.5 L60.0 576.0 L61.5 586.0 L63.5 580.0 L64.5 581.0 L66.0 593.5 L68.0 589.0 L69.5 581.5 L70.5 579.0 L71.5 600.0 L72.5 620.0 L73.5 634.0 L75.5 640.0 L77.0 644.0 L78.5 636.0 L79.5 633.0 L81.0 635.0 L82.5 624.0 L83.5 621.5 L85.0 628.5 L86.5 622.5 L88.5 626.5 L90.0 626.0 L91.5 625.0 L93.0 618.0 L95.0 617.0 L97.5 613.0 L99.5 614.0 L101.5 609.0 L103.0 600.0 L104.5 584.0 L107.0 581.5 L108.0 590.0 L109.0 594.5 L111.5 594.5 L113.5 589.0 L116.0 585.0 L118.0 584.5 L119.5 576.0 L121.0 573.5 L122.0 580.0 L125.0 585.0 L127.0 591.0 L128.8 599.0 L130.5 591.0 L132.5 577.0 L135.0 573.0 L137.5 572.0 L140.5 575.0 L142.5 585.0 L144.3 591.0 L146.5 585.0 L148.5 586.5 L150.0 591.0 L152.0 587.0 L154.0 597.5 L156.0 590.0 L158.0 577.0 L160.0 580.0 L162.5 583.5 L164.5 586.0 L166.0 592.0 L168.0 595.0 L170.0 601.0 L172.0 593.0 L174.0 583.0 L176.0 580.5 L179.0 579.0 L181.5 575.5 L185.0 579.5 L187.0 575.5 L189.0 574.0 L191.0 570.5 L193.5 573.5 L195.5 575.0 L199.0 575.0 L201.0 578.0 L203.0 574.0 L205.0 581.0 L207.0 585.0 L209.0 588.0 L211.0 596.0 L213.0 602.0 L215.0 594.0 L217.0 600.0 L218.5 607.0 L219.9 606.0 L220.0 606.0 L222.5 610.0 L225.0 608.0 L226.0 620.0 L227.5 635.0 L228.8 643.5 L230.0 630.0 L231.0 626.0 L232.5 638.0 L234.5 641.0 L236.5 646.0 L238.5 660.0 L240.5 672.0 L244.0 678.5 L245.2 660.0 L246.2 640.0 L247.5 626.0 L248.8 621.5 L250.0 632.0 L251.5 642.0 L253.0 646.5 L254.8 648.5 L256.5 640.0 L258.5 632.0 L261.0 632.5 L263.0 628.0 L265.5 624.5 L268.0 617.0 L271.0 613.0 L272.5 604.0 L274.2 596.0 L275.5 604.0 L277.5 615.0 L279.5 618.0 L281.2 619.5 L282.5 614.0 L284.0 604.0 L285.0 599.0 L287.0 603.5 L289.0 601.5 L291.0 597.5 L293.0 598.5 L295.0 596.5 L297.0 599.5 L299.0 593.5 L301.0 589.5 L303.0 592.0 L305.0 594.0 L307.0 589.0 L308.7 584.0 L310.0 590.0 L311.5 597.0 L314.0 605.0 L316.0 613.0 L317.2 618.5 L319.0 616.0 L321.2 620.5 L323.5 616.0 L325.0 610.5 L327.0 613.0 L329.0 619.5 L331.5 617.0 L333.0 606.5 L334.5 615.0 L336.5 619.0 L339.5 620.0 L341.0 634.0 L342.5 622.0 L344.5 628.0 L346.5 621.0 L348.8 618.0 L350.5 627.0 L353.0 637.0 L355.5 645.0 L357.5 637.0 L359.5 639.5 L361.5 632.0 L364.0 629.5 L366.0 628.5 L368.0 632.5 L369.5 636.5 L371.5 636.5 L373.5 627.0 L376.0 632.0 L378.5 636.5 L380.0 637.5 L383.0 636.0 L386.0 636.5 L389.0 634.0 L391.5 640.0 L393.5 635.0 L395.0 632.5 L397.5 634.5 L400.0 632.0 L402.5 631.5 L405.5 634.0 L407.5 631.5 L408.8 627.0 L410.5 635.0 L412.5 639.5 L415.0 640.0 L417.0 644.0 L418.5 650.0 L419.9 657.0 L420.0 656.0 L422.0 652.0 L424.5 653.0 L426.5 647.0 L428.5 641.5 L430.5 643.5 L432.5 642.5 L435.0 643.5 L437.0 653.0 L438.5 660.0 L440.5 657.5 L442.5 651.5 L444.5 646.0 L446.5 645.0 L448.5 642.0 L450.0 640.0 L452.0 643.0 L454.0 645.0 L455.8 635.0 L457.8 644.0 L460.0 640.0 L462.0 637.5 L464.0 636.5 L466.0 633.5 L468.5 634.0 L470.0 634.5 L471.5 640.5 L473.5 635.5 L475.5 637.0 L477.5 635.5 L479.7 641.5 L481.2 628.0 L483.2 631.5 L485.5 627.0 L487.8 624.0 L490.0 626.0 L492.0 627.0 L494.5 628.0 L496.5 627.5 L498.0 635.0 L500.0 639.0 L501.5 652.0 L503.0 662.0 L505.0 664.0 L506.5 675.0 L508.0 690.0 L510.0 710.0 L511.5 746.5 L512.5 740.0 L513.5 700.0 L516.5 695.0 L518.0 686.5 L521.5 684.5 L522.5 670.0 L523.0 660.0 L524.0 652.0 L526.0 654.0 L528.5 658.0 L530.5 655.5 L532.5 655.0 L534.5 647.0 L536.0 641.5 L538.0 646.0 L540.5 649.0 L543.0 653.0 L545.0 651.5 L546.8 650.0 L548.0 662.0 L550.0 655.5 L553.0 655.5 L555.0 656.0 L557.5 660.0 L559.0 669.0 L561.0 674.0 L563.5 678.0 L566.0 679.0 L567.8 686.0 L570.0 681.5 L572.0 680.5 L573.7 684.5 L575.5 679.5 L578.0 678.5 L580.5 675.5 L583.2 671.5 L585.5 677.5 L588.5 672.0 L591.0 680.0 L593.5 674.0 L595.0 682.0 L597.0 690.0 L599.0 684.0 L601.5 682.5 L603.5 685.0 L605.5 684.0 L607.0 677.0 L609.5 676.0 L611.5 676.0 L613.5 678.0 L615.0 675.5 L617.5 677.5 L619.9 674.5 L620.0 674.5 L622.5 675.5 L625.0 675.5 L627.0 677.5 L629.0 678.0 L631.0 674.5 L632.8 673.0 L634.5 681.5 L636.0 675.0 L638.0 678.5 L640.5 674.5 L643.0 675.5 L644.5 678.5 L646.5 680.0 L648.5 677.5 L650.0 680.0 L652.0 681.5 L654.5 684.0 L656.5 680.0 L658.0 677.0 L660.5 678.5 L662.5 682.0 L664.5 686.0 L667.0 686.5 L669.5 688.0 L672.0 685.5 L673.2 700.0 L674.5 703.0 L676.5 699.0 L677.5 716.0 L680.0 720.0 L682.0 723.0 L683.5 727.0 L685.5 731.0 L687.0 740.0 L689.0 745.0 L690.5 747.0 L692.3 760.0 L693.7 769.0 L695.0 774.0 L696.1 760.0 L696.9 737.0 L699.0 732.0 L700.5 725.0 L702.0 717.0 L703.5 714.0 L705.0 722.0 L706.5 712.0 L708.0 705.0 L709.5 703.5 L710.5 712.0 L711.5 730.0 L712.5 743.0 L713.5 740.0 L715.0 730.0 L717.0 725.0 L718.5 728.0 L720.0 736.0 L721.0 739.0 L723.0 734.0 L724.5 723.0 L726.0 713.0 L727.5 710.0 L729.5 714.0 L731.5 708.0 L733.0 703.5 L735.0 708.0 L737.0 712.0 L739.0 710.5 L741.0 709.0 L743.0 714.5 L745.0 715.0 L746.8 723.0 L748.5 719.0 L750.5 714.0 L752.5 719.0 L754.5 725.5 L756.5 721.0 L758.5 720.0 L761.0 724.0 L763.0 723.0 L764.5 731.0 L766.0 729.0 L768.5 731.5 L771.5 732.5 L774.5 734.0 L776.5 729.0 L778.0 726.5 L780.5 728.5 L782.5 728.0 L784.0 726.5 L786.0 730.0 L788.5 734.0 L790.0 745.5 L793.0 746.0 L794.5 758.0 L797.0 754.0 L799.0 758.0 L801.0 772.0 L803.0 776.0 L805.5 774.0 L806.5 786.0 L807.5 810.0 L808.5 840.0 L810.0 860.0 L810.5 871.0 L811.5 850.0 L813.0 843.0 L814.0 870.0 L814.8 888.0 L816.2 872.0 L817.5 880.0 L819.0 887.0 L821.0 893.0 L822.0 903.0 L824.0 902.5 L825.5 907.5 L827.2 913.5 L829.0 905.0 L830.0 899.0 L832.0 902.5 L834.0 906.0 L835.5 905.0 L837.3 912.5 L839.2 920.0 L840.6 930.0 L842.2 940.0 L843.5 947.0 L844.5 954.5 L845.8 947.0 L847.0 938.0 L848.1 928.0 L849.0 922.0 L850.3 915.0 L852.0 902.5 L854.0 897.0 L856.0 901.0 L858.2 907.5 L860.0 900.0 L861.0 892.5 L862.5 889.0 L863.5 873.0 L864.5 865.0 L866.0 875.0 L868.0 883.5 L870.0 877.0 L873.0 876.0 L876.0 880.5 L878.0 879.0 L880.0 880.0 L881.5 865.0 L883.0 856.0 L884.5 854.0 L886.0 862.0 L887.5 854.0 L889.0 845.0 L890.5 843.0 L892.0 849.0 L894.0 845.0 L895.5 839.0 L897.5 836.0 L899.5 840.0 L901.0 830.0 L903.0 823.0 L905.0 813.0 L907.0 814.5 L909.0 815.0 L911.0 824.0 L913.0 818.5 L915.0 817.5 L917.0 822.0 L919.5 822.5 L921.0 816.0 L923.0 825.0 L924.8 833.0 L927.0 828.0 L930.0 825.0 L932.0 821.5 L934.5 825.0 L937.5 826.0 L940.0 822.5 L942.0 824.5 L944.5 825.5 L946.0 818.0 L947.7 812.0 L950.0 816.0 L952.0 817.5 L954.0 814.5 L956.0 815.0 L958.5 819.5 L961.5 822.0 L963.8 826.0 L966.5 822.0 L968.5 820.5 L970.0 822.0 L971.5 814.5 L973.5 813.5 L976.0 814.0 L980.0 815.5 L981.2 823.5 L983.5 822.5 L985.5 824.0 L987.5 819.5 L989.9 819.0 L991.5 824.0 L993.2 826.5 L995.5 825.0 L997.5 824.5 L999.5 820.0 L1002.0 821.0 L1005.0 823.0 L1008.0 824.0 L1010.0 828.0 L1012.0 831.5 L1014.5 833.5 L1018.0 833.0 L1021.0 835.5 L1023.5 837.5 L1025.0 840.0 L1027.0 840.5 L1029.0 835.0 L1032.0 837.5 L1034.5 834.0 L1036.2 832.5 L1038.5 835.5 L1041.0 837.0 L1044.5 839.0 L1048.0 840.5 L1049.8 846.0 L1052.0 846.0 L1053.2 834.0 L1054.0 828.0 L1055.5 828.0 L1056.5 835.0 L1058.0 820.0 L1060.0 821.5 L1062.0 823.0 L1064.0 821.0 L1065.7 819.0 L1068.0 822.5 L1070.0 820.0 L1071.5 812.0 L1073.5 808.5 L1075.7 805.0 L1078.0 806.5 L1080.0 808.0 L1081.5 815.5 L1083.5 811.5 L1085.5 813.0 L1087.5 817.0 L1089.5 823.0 L1091.2 827.0 L1093.5 826.0 L1095.5 832.0 L1097.5 840.0 L1100.0 846.5 L1102.0 844.0 L1104.0 845.0 L1106.0 852.0 L1107.5 859.0 L1109.5 861.5 L1111.5 860.5 L1113.5 862.0 L1115.8 855.0 L1117.0 859.5 L1119.5 863.0 L1121.5 870.0 L1123.7 874.5 L1125.5 870.0 L1127.5 873.5 L1129.2 863.5 L1131.5 867.5 L1134.0 869.5 L1137.0 871.0 L1139.0 871.5 L1140.5 882.5 L1142.0 890.0 L1143.0 897.5 L1144.0 901.5 L1146.0 899.5 L1148.0 901.5 L1149.5 896.0 L1150.5 894.5 L1152.0 904.0 L1153.5 900.0 L1154.5 896.5 L1156.5 898.5 L1158.5 900.0 L1159.5 907.5 L1160.5 915.0 L1161.0 922.5 L1161.5 929.5 L1163.0 928.0 L1164.5 932.5 L1166.0 937.5 L1167.8 941.0 L1169.0 933.0 L1170.0 925.0 L1171.5 912.5 L1173.0 903.0 L1174.5 895.0 L1175.5 892.0 L1177.0 897.0 L1179.0 897.0 L1180.5 894.5 L1182.0 891.5 L1184.0 892.0 L1185.5 894.0 L1187.0 885.0 L1188.0 881.5 L1189.2 886.5 L1190.5 894.0 L1191.5 896.5 L1193.0 891.5 L1194.5 888.0 L1196.0 888.5 L1197.5 892.0 L1199.5 888.0 L1201.0 890.0 L1202.8 894.0 L1204.0 889.0 L1205.5 884.5 L1207.0 886.5 L1208.2 895.0 L1209.0 898.5 L1211.0 895.0 L1213.0 897.0 L1215.0 900.0 L1217.0 905.0 L1218.5 909.0 L1220.0 911.0 L1221.0 910.5 L1222.5 900.0 L1223.5 891.0 L1225.0 889.5 L1227.2 891.5 L1229.0 886.0 L1230.7 883.5 L1232.5 887.0 L1235.0 889.5 L1237.0 886.0 L1239.0 884.5 L1241.0 887.5 L1242.5 880.0 L1244.0 872.0 L1245.5 871.0 L1247.0 875.0 L1248.5 869.5 L1250.5 864.0 L1252.0 856.0 L1253.0 854.5 L1254.0 860.0 L1255.0 868.0 L1256.5 860.0 L1259.0 864.0 L1261.5 868.5 L1264.0 865.0 L1265.5 857.0 L1267.5 862.0 L1270.0 857.0 L1272.0 859.0 L1274.0 863.0 L1278.0 861.0 L1280.0 854.5 L1282.0 852.5 L1284.0 856.0 L1287.0 854.0 L1290.0 851.0 L1292.0 856.0 L1295.0 850.5 L1297.5 856.0 L1299.5 855.5 L1301.5 858.5 L1303.5 851.5 L1306.5 853.5 L1309.0 849.0 L1311.5 851.0 L1315.0 847.0 L1317.0 844.0 L1319.0 840.5 L1321.0 846.0 L1323.5 843.5 L1325.5 851.0 L1327.0 855.0 L1329.0 848.0 L1331.5 850.5 L1334.5 855.0 L1337.0 851.0 L1340.0 849.0 L1342.5 847.5 L1345.0 848.0 L1346.5 845.0 L1348.5 849.0 L1351.0 844.5 L1353.0 847.0 L1355.0 846.0 L1357.0 851.0 L1359.0 853.0 L1361.0 851.5 L1364.0 852.5 L1367.0 852.0 L1370.0 850.0 L1374.0 849.0 L1376.0 851.0 L1378.0 849.0 L1379.5 844.0 L1381.5 845.0 L1384.0 843.5 L1387.0 843.5 L1390.0 845.5 L1393.0 846.0 L1395.5 845.0 L1398.0 847.5 L1402.0 848.5 L1404.5 846.0 L1407.0 843.5 L1409.9 842.5 L1411.3 842.1 L1414.3 837.6 L1416.5 822.6 L1419.1 808.3 L1421.8 816.6 L1424.0 819.6 L1427.0 815.1 L1430.8 807.6 L1433.0 794.1 L1435.3 800.1 L1437.5 794.1 L1439.8 795.6 L1441.7 790.3 L1444.3 794.1 L1447.7 794.8 L1450.3 785.1 L1452.5 773.1 L1454.8 759.6 L1457.0 755.1 L1459.3 750.6 L1461.5 755.1 L1463.8 752.8 L1466.0 759.6 L1468.3 768.6 L1470.8 776.1 L1472.8 762.6 L1475.0 746.1 L1477.3 740.1 L1478.8 743.1 L1481.1 731.1 L1482.9 737.1 L1484.8 725.0 L1487.1 713.0 L1489.3 701.8 L1491.6 710.0 L1493.8 698.0 L1495.3 716.0 L1498.3 714.5 L1500.6 707.8 L1503.3 725.0 L1505.1 702.5 L1507.3 699.5 L1509.6 690.5 L1511.8 690.5 L1514.1 701.8 L1517.8 698.0 L1520.1 707.0 L1522.3 713.0 L1524.6 726.5 L1526.8 713.0 L1528.8 737.1 L1531.3 738.6 L1533.0 752.1 L1534.6 729.5 L1537.3 735.6 L1541.1 738.6 L1544.8 746.1 L1548.3 752.8 L1550.8 745.3 L1553.1 744.6 L1555.3 749.8 L1557.9 758.1 L1560.6 747.6 L1562.9 735.6 L1564.7 726.5 L1566.6 738.6 L1568.1 710.0 L1570.0 698.7 L1572.1 693.0 L1573.6 691.6 L1576.0 694.5 L1577.9 691.6 L1579.7 685.9 L1582.2 688.7 L1583.9 688.7 L1585.7 678.7 L1587.9 669.4 L1590.0 664.4 L1591.4 651.6 L1593.6 648.7 L1595.7 658.7 L1597.9 671.6 L1599.3 688.7 L1601.2 671.6 L1602.6 677.3 L1604.0 670.1 L1605.7 685.9 L1607.5 693.0 L1609.3 684.4 L1611.5 680.9 L1613.6 689.4 L1615.8 671.6 L1617.9 659.4 L1620.0 665.9 L1622.2 666.6 L1623.6 663.0 L1625.8 675.2 L1627.9 669.4 L1630.1 666.6 L1631.8 658.7 L1633.6 663.0 L1635.5 666.6 L1637.2 657.3 L1638.6 641.5 L1640.8 643.0 L1642.9 637.3 L1645.1 633.0 L1647.2 634.4 L1649.4 624.4 L1651.2 608.7 L1653.2 602.9 L1655.1 618.0 L1657.2 614.4 L1659.4 613.0 L1660.8 594.4 L1662.9 591.5 L1664.7 587.2 L1666.5 597.2 L1668.7 597.2 L1670.8 599.4 L1672.9 608.7 L1674.8 616.5 L1676.9 610.1 L1678.4 607.9 L1680.8 613.0 L1684.4 610.8 L1687.2 607.2 L1689.0 607.2 L1690.1 595.8 L1692.2 602.9 L1693.7 595.1 L1695.8 592.9 L1698.0 585.8 L1699.8 579.4 L1702.3 582.2 L1705.1 581.5 L1707.5 588.6 L1710.1 583.6 L1712.3 584.4 L1714.4 577.2 L1716.8 569.3 L1718.7 576.5 L1720.8 582.2 L1723.0 570.8 L1725.1 571.5 L1727.3 570.1 L1729.4 567.0 L1730.0 570.0 L1731.0 560.0 L1732.0 545.0 L1732.5 535.0 L1734.0 533.0 L1735.5 532.5 L1737.0 533.5 L1738.0 545.0 L1739.0 551.0 L1740.0 545.0 L1740.8 525.0 L1741.2 517.0 L1742.5 515.5 L1744.0 518.0 L1745.0 520.0 L1746.5 518.0 L1747.5 515.0 L1748.0 507.5 L1748.4 491.7 L1750.3 488.7 L1752.6 460.2 L1754.4 490.9 L1756.8 484.9 L1758.9 488.7 L1760.8 487.2 L1764.6 493.2 L1766.1 456.4 L1768.3 453.4 L1770.3 446.6 L1772.4 453.4 L1775.1 454.1 L1776.9 451.1 L1778.1 440.6 L1780.4 433.9 L1782.2 428.6 L1784.1 434.6 L1786.4 439.1 L1788.6 443.6 L1790.1 443.6 L1791.6 430.1 L1793.9 427.9 L1796.1 436.1 L1797.9 444.4 L1799.9 439.1 L1801.8 425.6 L1803.6 401.6" stroke="#568cd9" stroke-width="4.0" fill="none" stroke-linejoin="round" stroke-linecap="round" clip-path="url(#pc)"/>
<circle cx="61.5" cy="94.5" r="7.2" fill="#6733cc"/>
<circle cx="61.5" cy="134.5" r="7.2" fill="#ffa870"/>
<circle cx="61.5" cy="174.5" r="7.2" fill="#568cd9"/>
<path d="M1804 356.3L1823.2 337.2H1914.4V375.4H1823.2Z" fill="#6733cc"/>
<path d="M1804 401.6L1823.2 382.5H1914.4V420.7H1823.2Z" fill="#568cd9"/>
<path d="M1804 655.1L1823.2 636.0H1914.4V674.2H1823.2Z" fill="#ffa870"/>
<g fill="none" stroke-width="1.15">
<path d="M34.3 1371H29.8V1321H85.8V1325.7" stroke="#666"/>
<path d="M90.4 1334V1325.8H34.4V1375.2H90.4V1366.7" stroke="#444"/>
</g>
<text y="62.8" font-size="27.6" fill="#000" font-weight="normal" stroke="#000" stroke-width="0.45"><tspan x="828.2" textLength="43.19" lengthAdjust="spacingAndGlyphs">VAL</tspan></text>
<text y="103" font-size="27.6" fill="#000" font-weight="normal" stroke="#000" stroke-width="0.45"><tspan x="90.32" textLength="67.07" lengthAdjust="spacingAndGlyphs">Japan</tspan> <tspan x="164.43" textLength="26.67" lengthAdjust="spacingAndGlyphs">40</tspan> <tspan x="198.34" textLength="46.37" lengthAdjust="spacingAndGlyphs">Year</tspan> <tspan x="253.67" textLength="132.24" lengthAdjust="spacingAndGlyphs">Government</tspan> <tspan x="393.33" textLength="56.02" lengthAdjust="spacingAndGlyphs">Bond</tspan> <tspan x="455.94" textLength="83.57" lengthAdjust="spacingAndGlyphs">Interest</tspan> <tspan x="547.25" textLength="49.9" lengthAdjust="spacingAndGlyphs">Rate</tspan> <tspan x="603.09" textLength="140.63" lengthAdjust="spacingAndGlyphs">(I:J40YGBIR)</tspan> <tspan x="804.97" textLength="66.23" lengthAdjust="spacingAndGlyphs">3.60%</tspan></text>
<text y="143" font-size="27.6" fill="#000" font-weight="normal" stroke="#000" stroke-width="0.45"><tspan x="90.32" textLength="67.07" lengthAdjust="spacingAndGlyphs">Japan</tspan> <tspan x="164.19" textLength="26.91" lengthAdjust="spacingAndGlyphs">10</tspan> <tspan x="198.34" textLength="46.37" lengthAdjust="spacingAndGlyphs">Year</tspan> <tspan x="253.67" textLength="132.24" lengthAdjust="spacingAndGlyphs">Government</tspan> <tspan x="393.33" textLength="56.02" lengthAdjust="spacingAndGlyphs">Bond</tspan> <tspan x="455.94" textLength="83.57" lengthAdjust="spacingAndGlyphs">Interest</tspan> <tspan x="547.25" textLength="49.9" lengthAdjust="spacingAndGlyphs">Rate</tspan> <tspan x="603.09" textLength="140.63" lengthAdjust="spacingAndGlyphs">(I:J10YGBIR)</tspan> <tspan x="805.04" textLength="66.15" lengthAdjust="spacingAndGlyphs">1.82%</tspan></text>
<text y="183" font-size="27.6" fill="#000" font-weight="normal" stroke="#000" stroke-width="0.45"><tspan x="90.32" textLength="67.07" lengthAdjust="spacingAndGlyphs">Japan</tspan> <tspan x="164.04" textLength="27.07" lengthAdjust="spacingAndGlyphs">30</tspan> <tspan x="198.34" textLength="46.37" lengthAdjust="spacingAndGlyphs">Year</tspan> <tspan x="253.67" textLength="132.24" lengthAdjust="spacingAndGlyphs">Government</tspan> <tspan x="393.33" textLength="56.02" lengthAdjust="spacingAndGlyphs">Bond</tspan> <tspan x="455.94" textLength="83.57" lengthAdjust="spacingAndGlyphs">Interest</tspan> <tspan x="547.25" textLength="49.9" lengthAdjust="spacingAndGlyphs">Rate</tspan> <tspan x="603.09" textLength="140.63" lengthAdjust="spacingAndGlyphs">(I:J30YGBIR)</tspan> <tspan x="804.97" textLength="66.23" lengthAdjust="spacingAndGlyphs">3.33%</tspan></text>
<text y="455.0" font-size="27.8" fill="#666" font-weight="normal" stroke="#666" stroke-width="0.45"><tspan x="1819.27" textLength="65.82" lengthAdjust="spacingAndGlyphs">3.00%</tspan></text>
<text y="707.0" font-size="27.8" fill="#666" font-weight="normal" stroke="#666" stroke-width="0.45"><tspan x="1819.46" textLength="65.53" lengthAdjust="spacingAndGlyphs">1.50%</tspan></text>
<text y="959.0" font-size="27.8" fill="#666" font-weight="normal" stroke="#666" stroke-width="0.45"><tspan x="1819.27" textLength="65.82" lengthAdjust="spacingAndGlyphs">0.00%</tspan></text>
<text y="1211.0" font-size="27.8" fill="#666" font-weight="normal" stroke="#666" stroke-width="0.45"><tspan x="1818.57" textLength="74.13" lengthAdjust="spacingAndGlyphs">-1.50%</tspan></text>
<text y="1251.0" font-size="27.8" fill="#666" font-weight="normal" stroke="#666" stroke-width="0.45"><tspan x="150.14" textLength="54.97" lengthAdjust="spacingAndGlyphs">2010</tspan> <tspan x="355.13" textLength="55.38" lengthAdjust="spacingAndGlyphs">2012</tspan> <tspan x="560.14" textLength="54.97" lengthAdjust="spacingAndGlyphs">2014</tspan> <tspan x="764.13" textLength="55.38" lengthAdjust="spacingAndGlyphs">2016</tspan> <tspan x="969.13" textLength="55.38" lengthAdjust="spacingAndGlyphs">2018</tspan> <tspan x="1174.14" textLength="54.97" lengthAdjust="spacingAndGlyphs">2020</tspan> <tspan x="1379.13" textLength="55.38" lengthAdjust="spacingAndGlyphs">2022</tspan> <tspan x="1583.14" textLength="54.97" lengthAdjust="spacingAndGlyphs">2024</tspan></text>
<text y="364.6" font-size="27.8" fill="#fff" font-weight="bold"><tspan x="1826.43" textLength="67.91" lengthAdjust="spacingAndGlyphs">3.60%</tspan></text>
<text y="409.7" font-size="27.8" fill="#fff" font-weight="bold"><tspan x="1826.43" textLength="67.91" lengthAdjust="spacingAndGlyphs">3.33%</tspan></text>
<text y="663.8" font-size="27.8" fill="#fff" font-weight="bold"><tspan x="1826.2" textLength="68.14" lengthAdjust="spacingAndGlyphs">1.82%</tspan></text>
<text y="1376.6" font-size="25.6" fill="#000" font-weight="normal" stroke="#000" stroke-width="0.45"><tspan x="1383.17" textLength="39.33" lengthAdjust="spacingAndGlyphs">Nov</tspan> <tspan x="1429.13" textLength="31.67" lengthAdjust="spacingAndGlyphs">21,</tspan> <tspan x="1465.94" textLength="56.76" lengthAdjust="spacingAndGlyphs">2025,</tspan> <tspan x="1529.46" textLength="55.97" lengthAdjust="spacingAndGlyphs">11:16</tspan> <tspan x="1592.8" textLength="33.71" lengthAdjust="spacingAndGlyphs">AM</tspan> <tspan x="1632.39" textLength="39.96" lengthAdjust="spacingAndGlyphs">EST</tspan> <tspan x="1679.05" textLength="88.3" lengthAdjust="spacingAndGlyphs">Powered</tspan> <tspan x="1773.86" textLength="22.64" lengthAdjust="spacingAndGlyphs">by</tspan></text>
<text y="1352.7" font-size="22.6" fill="#3c3c3c" font-weight="normal"><tspan x="37.71" textLength="106.2" lengthAdjust="spacingAndGlyphs">Stapleton</tspan></text>
<text y="1365.1" font-size="4.8" fill="#555" font-weight="normal"><tspan x="66.2" textLength="48.38" lengthAdjust="spacingAndGlyphs">ASSET MANAGEMENT</tspan></text>
<text y="1381.3" font-size="32.6" font-weight="bold"><tspan x="1803.95" textLength="23.32" lengthAdjust="spacingAndGlyphs" fill="#1e8fe6">Y</tspan><tspan x="1827.3 1855 1882.6 1911.3 1938.2 1961.1" fill="#000">CHARTS</tspan></text>
</svg></body></html>
